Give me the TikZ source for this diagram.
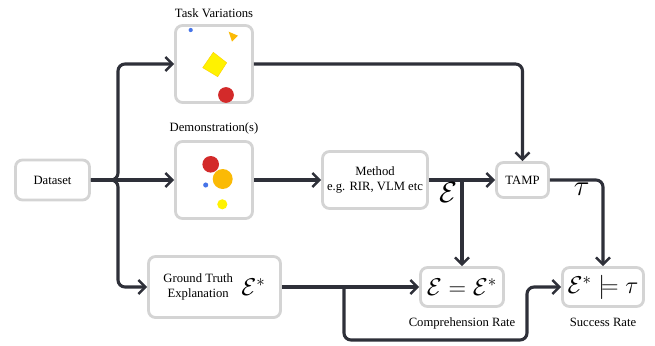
\documentclass[tikz,border=0pt]{standalone}
\usepackage{fontspec}
\setmainfont{Liberation Serif}
\usetikzlibrary{positioning,arrows.meta}
\definecolor{boxgray}{RGB}{212,212,212}
\definecolor{flowdark}{RGB}{46,48,57}
\definecolor{gblue}{RGB}{70,116,232}
\definecolor{gred}{RGB}{211,42,42}
\definecolor{gamber}{RGB}{251,186,5}
\definecolor{gyellow}{RGB}{255,242,0}
\tikzset{
  stage/.style={draw=boxgray,line width=2pt,rounded corners=5pt,fill=white,
                align=center,font=\fontsize{9}{10.5}\selectfont,inner sep=2pt},
  caption/.style={font=\fontsize{9}{10.5}\selectfont,inner sep=1pt},
  flow/.style={draw=flowdark,line width=2.2pt,rounded corners=5pt,
               -{Straight Barb[length=5pt,width=10pt,line width=1.7pt]}},
}

\begin{document}
\begin{tikzpicture}[x=0.025cm,y=-0.025cm]
  \useasboundingbox (0,0) rectangle (655,345);

  % boxes
  \node[stage,minimum width=1.85cm,minimum height=1cm] (dataset) at (52.5,180) {Dataset};
  \node[stage,minimum width=1.925cm,minimum height=1.925cm] (task) at (214,64) {};
  \node[stage,minimum width=1.925cm,minimum height=1.925cm] (demo) at (214,180) {};
  \node[stage,minimum width=2.625cm,minimum height=1.425cm] (method) at (375,180)
    {Method\\e.g. RIR, VLM etc};
  \node[stage,minimum width=1.3cm,minimum height=0.875cm] (tamp) at (522.5,180) {TAMP};
  \node[stage,minimum width=3.3cm,minimum height=1.525cm] (truth) at (214.5,287)
    {\begin{tabular}{@{}c@{}}Ground Truth\\Explanation\end{tabular}\hspace{6pt}%
     $\vcenter{\hbox{\LARGE$\mathcal{E}^*$}}$};
  \node[stage,minimum width=2.075cm,minimum height=0.975cm] (compare) at (462,287)
    {\LARGE$\mathcal{E}=\mathcal{E}^*$};
  \node[stage,minimum width=2.025cm,minimum height=0.975cm] (entail) at (603,287)
    {\LARGE$\mathcal{E}^*\models\tau$};

  % captions
  \node[caption,above=3pt of task] (tasklbl) {Task Variations};
  \node[caption,above=3pt of demo] (demolbl) {Demonstration(s)};
  \node[caption,below=6pt of compare] (complbl) {Comprehension Rate};
  \node[caption,below=6pt of entail] (succlbl) {Success Rate};

  % scene: task variations
  \fill[gblue] (190.7,30) circle[radius=1.5pt];
  \fill[gamber] (228.7,31.7) -- (238,35.7) -- (232,41.7) -- cycle;
  \filldraw[fill=gyellow,draw=gamber!60!gyellow,line width=0.3pt]
    (213.3,52.3) -- (226.7,62.7) -- (217.7,76.7) -- (202.7,67.7) -- cycle;
  \fill[gred] (226,95) circle[radius=5.6pt];

  % scene: demonstration
  \fill[gred] (210.7,164.3) circle[radius=5.9pt];
  \fill[gamber] (222.7,179) circle[radius=7.1pt];
  \fill[gblue] (205.7,185) circle[radius=1.8pt];
  \fill[gyellow] (222.3,204.3) circle[radius=3.6pt];

  % connectors
  \coordinate (split) at (118,180);
  \draw[flow] (dataset.east) -- (split) |- (task.west);
  \draw[flow] (dataset.east) -- (split) |- (truth.west);
  \draw[flow] (dataset.east) -- (demo.west);
  \draw[flow] (task.east) -| (tamp.north);
  \draw[flow] (demo.east) -- (method.west);
  \draw[flow] (method.east) -- node[pos=0.3,below,inner sep=1pt] (elbl) {\huge$\mathcal{E}$} (tamp.west);
  \draw[flow] (compare.north |- method.east) -- (compare.north);
  \draw[flow] (tamp.east) -| node[pos=0.3,below,inner sep=1pt] (taulbl) {\huge$\tau$} (entail.north);
  \draw[flow] (truth.east) -- (compare.west);
  \coordinate (tap) at (344,287);
  \coordinate (dip) at (527,340);
  \draw[flow] (tap) |- (dip) |- (entail.west);
\end{tikzpicture}
\end{document}
